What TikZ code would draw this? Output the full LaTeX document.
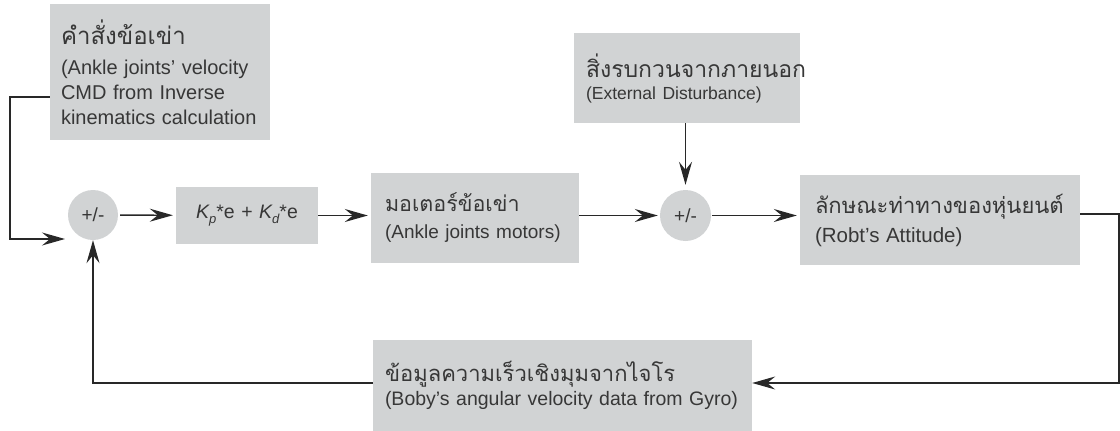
\documentclass[tikz,border=0pt]{standalone}
\usepackage{fontspec}
\setmainfont{Liberation Sans}
\newfontfamily\thai[Script=Thai]{Loma}
\usetikzlibrary{arrows.meta,calc}
\definecolor{boxgray}{RGB}{209,211,212}
\definecolor{ink}{RGB}{40,40,40}
\definecolor{txt}{RGB}{55,55,55}
\newcommand{\Ksb}[1]{{\itshape K}\raisebox{-0.45ex}{\fontsize{13}{13}\selectfont\itshape #1}}
\newcommand{\thtxt}[2][20.5]{{\thai\fontsize{#1}{#1}\selectfont #2}}
\newcommand{\fs}[1]{\fontsize{#1}{25}\selectfont}
\begin{document}
\begin{tikzpicture}[x=1pt,y=-1pt,
  box/.style={fill=boxgray, draw=none, inner xsep=13pt, inner ysep=0pt, align=left, text=txt,
    font=\fontsize{19.5}{25}\selectfont},
  sumnode/.style={circle, fill=boxgray, minimum size=50pt, inner sep=0pt, text=txt,
    font=\fontsize{19}{20}\selectfont},
  conn/.style={draw=ink, line width=1.4pt},
  arr/.style={conn, -{Stealth[length=23pt,width=13pt,inset=8pt]}}
]
\useasboundingbox (0,0) rectangle (1120,431);

% boxes
\node[box, text width=198pt, minimum height=136pt, inner xsep=11pt] (cmd) at (160,72)
  {\fs{20}\thtxt[24]{คำสั่งข้อเข่า}\\[5pt](Ankle joints’ velocity\\CMD from Inverse\\kinematics calculation};
\node[box, align=center, text width=142pt, inner xsep=0pt, minimum height=57pt] (pid) at (247,215.5)
  {\fs{19.5}\Ksb{p}*e + \Ksb{d}*e};
\node[box, text width=180pt, minimum height=90pt, inner xsep=14pt] (mot) at (475,218)
  {\fs{19}\thtxt[21.5]{มอเตอร์ข้อเข่า}\\[2pt](Ankle joints motors)};
\node[box, text width=202pt, minimum height=90pt, inner xsep=12pt] (dist) at (687,78)
  {\fs{17.5}\thtxt[23]{สิ่งรบกวนจากภายนอก}\\[-3pt](External Disturbance)};
\node[box, text width=250pt, minimum height=90pt, inner xsep=15pt] (att) at (940,220)
  {\fs{20.5}\thtxt[22]{ลักษณะท่าทางของหุ่นยนต์}\\[4pt](Robt’s Attitude)};
\node[box, text width=355pt, minimum height=91pt, inner xsep=12pt] (gyro) at (562.5,385.5)
  {\fs{19.5}\thtxt[22]{ข้อมูลความเร็วเชิงมุมจากไจโร}\\[-1pt](Boby’s angular velocity data from Gyro)};

% summing junctions
\node[sumnode] (s1) at (93,215) {+/-};
\node[sumnode, minimum size=51pt] (s2) at (685.5,215.5) {+/-};

% helper coordinates
\coordinate (c1) at (10,97);
\coordinate (c2) at (10,239);
\coordinate (c3) at (65,239);
\coordinate (r1) at (1119,214);
\coordinate (r2) at (1119,383);
\coordinate (l1) at (93,383);

% connectors
\draw[arr] (cmd.west |- c1) -- (c1) -- (c2) -- (c3);
\draw[arr, shorten <=2pt, shorten >=3pt] (s1) -- (pid);
\draw[arr, shorten >=3pt] (pid) -- (mot.west |- pid);
\draw[arr, shorten >=2pt] (mot.east |- s2) -- (s2);
\draw[arr, shorten >=5pt] (dist.south -| s2) -- (s2);
\draw[arr, shorten <=1pt, shorten >=3pt] (s2) -- (att.west |- s2);
\draw[arr] (att.east |- r1) -- (r1) -- (r2) -- (gyro.east |- r2);
\draw[arr] (gyro.west |- l1) -- (l1) -- (s1.south);
\end{tikzpicture}
\end{document}
